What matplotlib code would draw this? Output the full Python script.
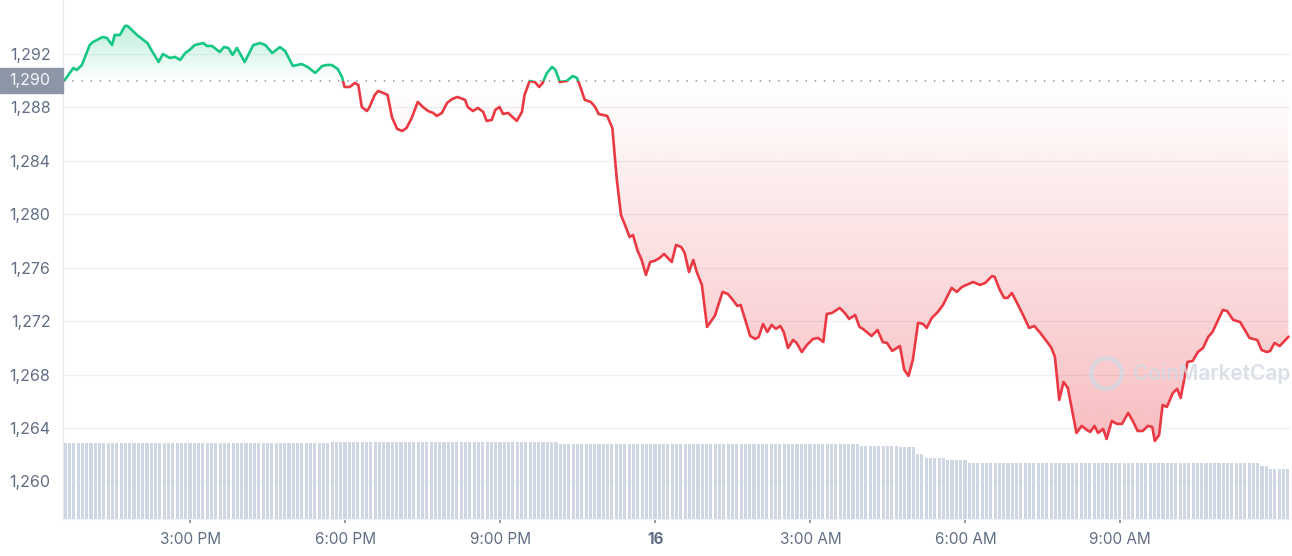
import matplotlib
matplotlib.use("Agg")
import matplotlib.pyplot as plt
import matplotlib.dates as mdates
from matplotlib.patches import Rectangle
from matplotlib.colors import to_rgb
import numpy as np
import pandas as pd

plt.rcParams['font.family'] = ['Inter', 'DejaVu Sans']

START = pd.Timestamp("2022-08-15 12:32")
END_MIN = 1425
BASELINE = 1290

# price trace: minutes after start, price
minutes = [0, 2, 12, 16, 22, 31, 35, 46, 51, 57, 60, 66, 72, 75, 86, 98, 104, 111, 116, 124,
           130, 136, 142, 147, 153, 163, 167, 173, 182, 187, 192, 197, 202, 211, 221, 229, 235, 243, 252, 258,
           267, 277, 284, 293, 301, 307, 312, 319, 324, 327, 333, 339, 343, 347, 353, 356, 362, 366, 372, 377,
           382, 388, 394, 399, 405, 412, 418, 424, 430, 434, 440, 446, 452, 458, 461, 467, 470, 476, 482, 488,
           492, 498, 502, 507, 511, 517, 527, 533, 536, 542, 548, 553, 557, 562, 568, 572, 577, 585, 592, 597,
           600, 606, 613, 618, 622, 632, 638, 643, 648, 654, 658, 662, 667, 672, 677, 682, 687, 693, 698, 707,
           712, 718, 722, 727, 732, 736, 742, 748, 757, 766, 772, 778, 783, 787, 792, 798, 804, 808, 813, 818,
           823, 828, 833, 837, 842, 848, 852, 858, 864, 871, 877, 883, 887, 893, 902, 908, 913, 920, 925, 929,
           939, 946, 952, 957, 963, 972, 977, 982, 987, 993, 999, 1003, 1009, 1016, 1022, 1032, 1038, 1044, 1057, 1065,
           1071, 1079, 1082, 1088, 1093, 1097, 1102, 1108, 1115, 1122, 1128, 1135, 1143, 1148, 1152, 1157, 1162, 1167, 1177, 1183,
           1189, 1193, 1198, 1202, 1208, 1212, 1218, 1224, 1230, 1237, 1243, 1248, 1254, 1260, 1265, 1268, 1273, 1277, 1282, 1289,
           1294, 1298, 1306, 1312, 1318, 1324, 1330, 1335, 1347, 1352, 1359, 1367, 1378, 1387, 1392, 1398, 1402, 1407, 1413, 1423]
prices = [1289.95, 1290.05, 1290.95, 1290.80, 1291.18, 1292.67, 1292.90, 1293.27, 1293.20, 1292.67, 1293.42, 1293.42, 1294.10, 1294.10, 1293.42, 1292.82, 1292.15, 1291.40, 1292.00, 1291.70,
          1291.78, 1291.55, 1292.07, 1292.30, 1292.67, 1292.82, 1292.60, 1292.60, 1292.15, 1292.52, 1292.45, 1291.93, 1292.45, 1291.40, 1292.67, 1292.82, 1292.67, 1292.07, 1292.52, 1292.22,
          1291.10, 1291.25, 1291.03, 1290.58, 1291.10, 1291.18, 1291.18, 1290.88, 1290.28, 1289.53, 1289.53, 1289.83, 1289.68, 1288.03, 1287.73, 1288.03, 1288.93, 1289.23, 1289.08, 1288.93,
          1287.28, 1286.39, 1286.24, 1286.46, 1287.21, 1288.41, 1288.03, 1287.73, 1287.58, 1287.36, 1287.58, 1288.33, 1288.63, 1288.78, 1288.71, 1288.56, 1288.03, 1287.73, 1287.96, 1287.66,
          1286.99, 1287.06, 1287.81, 1288.03, 1287.51, 1287.58, 1286.99, 1287.66, 1288.93, 1289.98, 1289.90, 1289.53, 1289.83, 1290.58, 1291.03, 1290.80, 1289.90, 1289.98, 1290.35, 1290.20,
          1289.68, 1288.56, 1288.41, 1288.03, 1287.51, 1287.36, 1286.46, 1282.72, 1279.95, 1278.98, 1278.30, 1278.45, 1277.33, 1276.58, 1275.46, 1276.43, 1276.51, 1276.73, 1277.03, 1276.43,
          1277.70, 1277.55, 1277.10, 1275.68, 1276.58, 1275.68, 1274.71, 1271.57, 1272.39, 1274.19, 1274.04, 1273.59, 1273.14, 1273.21, 1272.17, 1270.89, 1270.67, 1270.82, 1271.79, 1271.19,
          1271.72, 1271.42, 1271.64, 1271.19, 1269.99, 1270.59, 1270.37, 1269.69, 1270.22, 1270.67, 1270.74, 1270.44, 1272.54, 1272.61, 1272.99, 1272.61, 1272.17, 1272.46, 1271.57, 1271.42,
          1270.89, 1271.34, 1270.44, 1270.37, 1269.77, 1270.14, 1268.35, 1267.90, 1269.10, 1271.87, 1271.79, 1271.49, 1272.24, 1272.69, 1273.21, 1274.49, 1274.19, 1274.56, 1274.93, 1274.71,
          1274.86, 1275.38, 1275.31, 1274.34, 1273.74, 1273.74, 1274.11, 1273.36, 1272.46, 1271.49, 1271.64, 1271.12, 1270.44, 1269.99, 1269.32, 1266.10, 1267.45, 1267.00, 1263.63, 1264.16,
          1263.86, 1263.71, 1264.16, 1263.63, 1263.93, 1263.18, 1264.53, 1264.31, 1264.31, 1265.13, 1264.46, 1263.78, 1263.78, 1264.16, 1264.08, 1263.03, 1263.48, 1265.73, 1265.58, 1266.63,
          1266.93, 1266.25, 1268.95, 1269.02, 1269.69, 1269.99, 1270.82, 1271.19, 1272.84, 1272.76, 1272.09, 1271.94, 1270.74, 1270.59, 1269.84, 1269.69, 1269.77, 1270.37, 1270.14, 1270.82]

# volume per 5-minute bar, as (level, number of bars)
vol_levels = [7.65, 7.7, 7.55, 7.3, 7.2, 6.5, 6.13, 5.9, 5.57, 5.3, 5.0]
vol_counts = [62, 53, 70, 9, 4, 2, 5, 5, 68, 2, 5]

y_ticks = [1260, 1264, 1268, 1272, 1276, 1280, 1284, 1288, 1292]
tick_hours = [15, 18, 21, 24, 27, 30, 33]
tick_labels = ["3:00 PM", "6:00 PM", "9:00 PM", "16", "3:00 AM", "6:00 AM", "9:00 AM"]

GREEN = "#16c784"
RED = "#ea3943"
GRAY = "#616e85"

t = mdates.date2num(START + pd.to_timedelta(minutes, unit="m"))
p = np.array(prices)
t0 = mdates.date2num(START)
t1 = mdates.date2num(START + pd.Timedelta(minutes=END_MIN))

fig = plt.figure(figsize=(12.92, 5.56), dpi=100)
ax = fig.add_axes([63 / 1292, 37 / 556, 1227 / 1292, 519 / 556])

ylo, yhi = 1257.19, 1296.04

# gradient fills
def gradient_fill(lower, upper, lo, hi, color, a_lo, a_hi):
    poly = ax.fill_between(t, lower, upper, color="none", lw=0)
    grad = np.zeros((200, 1, 4))
    grad[..., :3] = to_rgb(color)
    grad[..., 3] = np.linspace(a_lo, a_hi, 200)[:, None]
    im = ax.imshow(grad, aspect="auto", origin="lower",
                   extent=[t[0], t[-1], lo, hi], zorder=1, interpolation="bilinear")
    im.set_clip_path(poly.get_paths()[0], transform=ax.transData)

gradient_fill(np.maximum(p, BASELINE), BASELINE, BASELINE, p.max(), GREEN, 0.0, 0.28)
gradient_fill(np.minimum(p, BASELINE), BASELINE, p.min(), BASELINE, RED, 0.33, 0.0)

# line split at baseline
green_line, = ax.plot(t, p, color=GREEN, lw=1.9, zorder=3, solid_joinstyle="round")
green_line.set_clip_path(Rectangle((t0 - 1, BASELINE), 3, 50, transform=ax.transData))
red_line, = ax.plot(t, p, color=RED, lw=1.9, zorder=3, solid_joinstyle="round")
red_line.set_clip_path(Rectangle((t0 - 1, BASELINE - 100), 3, 100, transform=ax.transData))

ax.axhline(BASELINE, color="#8d96a6", lw=1.1, ls=(0, (1, 5)), zorder=2)

ax.set_xlim(t0, t1)
ax.set_ylim(ylo, yhi)
ax.set_yticks(y_ticks)
ax.set_yticklabels([f"{v:,}" for v in y_ticks])
ax.grid(axis="y", color="#eff2f5", lw=1)
ax.set_axisbelow(True)

xt = [mdates.date2num(START.normalize() + pd.Timedelta(hours=h)) for h in tick_hours]
ax.set_xticks(xt)
ax.set_xticklabels(tick_labels)
for lab in ax.get_xticklabels():
    if lab.get_text() == "16":
        lab.set_fontweight("bold")

ax.tick_params(axis="y", length=0, pad=9, labelsize=11.5, labelcolor=GRAY)
ax.tick_params(axis="x", length=3, width=1.2, color="#808a9d", pad=6, labelsize=11, labelcolor=GRAY)
for s in ["top", "right"]:
    ax.spines[s].set_visible(False)
ax.spines["left"].set_color("#e6e9ee")
ax.spines["bottom"].set_color("#eff2f5")

# volume bars
volume = np.repeat(vol_levels, vol_counts)
vt = mdates.date2num(START + pd.to_timedelta(np.arange(len(volume)) * 5 + 2.5, unit="m"))
ax2 = ax.twinx()
ax2.bar(vt, volume, width=3.6 / 1440, color="#cfd6e4", lw=0)
ax2.set_ylim(0, 51.9)
ax2.set_xlim(t0, t1)
ax2.axis("off")

# watermark
ax.plot([0.850], [0.281], transform=ax.transAxes, marker="o", ms=22, mfc="none",
        mec="#d3d9e3", mew=3.2, alpha=0.8, zorder=4)
ax.text(0.872, 0.281, "CoinMarketCap", transform=ax.transAxes, fontsize=15, fontweight="semibold",
        color="#d3d9e3", alpha=0.8, va="center", ha="left", zorder=4)

# current-price label
fig.patches.append(Rectangle((0, (556 - 93) / 556), 63 / 1292, 25 / 556,
                             transform=fig.transFigure, color="#8d96a6", zorder=5))
fig.text(50 / 1292, (556 - 80.5) / 556, f"{BASELINE:,}", ha="right", va="center",
         fontsize=11.5, color="#f5f6f8", zorder=6)

fig.savefig("out.png", dpi=100)
